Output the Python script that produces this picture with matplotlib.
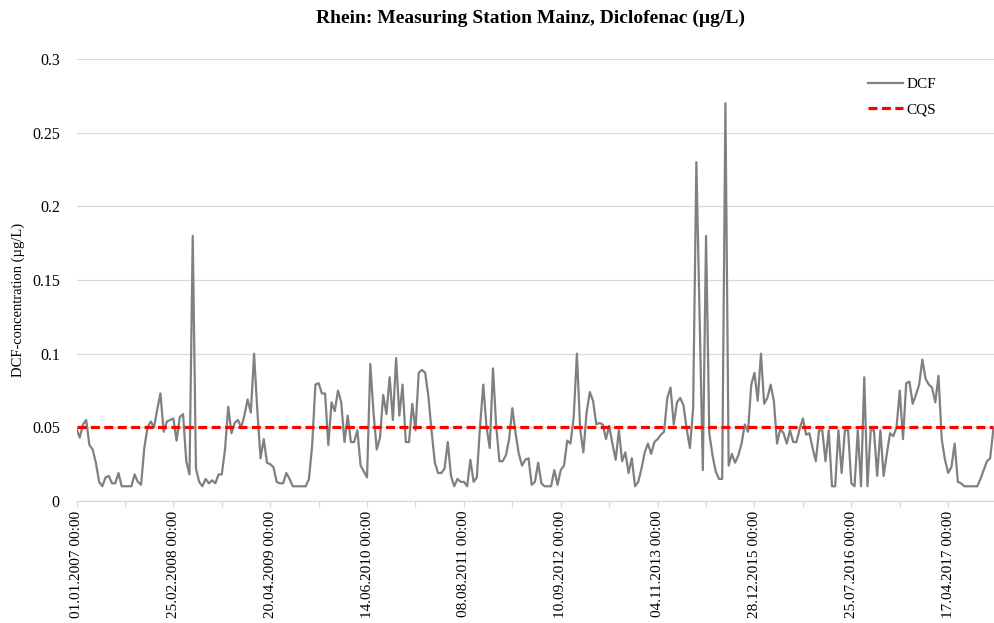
import matplotlib

matplotlib.use("Agg")
import matplotlib.pyplot as plt
from matplotlib.ticker import FixedLocator, FuncFormatter

LINE = "#808080"
CQS_COLOR = "#ff0000"
GRID = "#d9d9d9"
TEXT = "#000000"
FONT = "Liberation Serif"

# DCF concentration (µg/L), one value per sample (category axis)
dcf = [
    0.049, 0.043, 0.052, 0.055, 0.038, 0.035, 0.026, 0.013, 0.010, 0.016,
    0.017, 0.012, 0.012, 0.019, 0.010, 0.010, 0.010, 0.010, 0.018, 0.013,
    0.011, 0.036, 0.050, 0.054, 0.050, 0.062, 0.073, 0.047, 0.054, 0.055,
    0.056, 0.041, 0.057, 0.059, 0.027, 0.018, 0.180, 0.022, 0.013, 0.010,
    0.015, 0.012, 0.014, 0.012, 0.018, 0.018, 0.035, 0.064, 0.046, 0.053,
    0.055, 0.050, 0.058, 0.069, 0.060, 0.100, 0.062, 0.029, 0.042, 0.026,
    0.025, 0.023, 0.013, 0.012, 0.012, 0.019, 0.015, 0.010, 0.010, 0.010,
    0.010, 0.010, 0.015, 0.038, 0.079, 0.080, 0.073, 0.073, 0.038, 0.067,
    0.061, 0.075, 0.067, 0.040, 0.058, 0.040, 0.040, 0.048, 0.024, 0.020,
    0.016, 0.093, 0.060, 0.035, 0.043, 0.072, 0.059, 0.084, 0.055, 0.097,
    0.058, 0.079, 0.040, 0.040, 0.066, 0.048, 0.087, 0.089, 0.087, 0.071,
    0.047, 0.026, 0.019, 0.019, 0.022, 0.040, 0.017, 0.010, 0.015, 0.013,
    0.013, 0.010, 0.028, 0.013, 0.016, 0.051, 0.079, 0.050, 0.036, 0.090,
    0.051, 0.027, 0.027, 0.031, 0.042, 0.063, 0.046, 0.032, 0.024, 0.028,
    0.029, 0.011, 0.013, 0.026, 0.012, 0.010, 0.010, 0.010, 0.021, 0.011,
    0.021, 0.024, 0.041, 0.039, 0.057, 0.100, 0.049, 0.033, 0.060, 0.074,
    0.068, 0.052, 0.053, 0.052, 0.042, 0.051, 0.039, 0.028, 0.048, 0.027,
    0.033, 0.019, 0.029, 0.010, 0.013, 0.022, 0.033, 0.039, 0.032, 0.040,
    0.042, 0.045, 0.047, 0.070, 0.077, 0.052, 0.067, 0.070, 0.065, 0.049,
    0.036, 0.063, 0.230, 0.125, 0.021, 0.180, 0.046, 0.031, 0.020, 0.015,
    0.015, 0.270, 0.024, 0.032, 0.026, 0.031, 0.039, 0.052, 0.047, 0.079,
    0.087, 0.068, 0.100, 0.066, 0.070, 0.079, 0.068, 0.039, 0.049, 0.046,
    0.039, 0.048, 0.040, 0.040, 0.049, 0.056, 0.045, 0.046, 0.036, 0.027,
    0.048, 0.048, 0.027, 0.048, 0.010, 0.010, 0.048, 0.019, 0.048, 0.048,
    0.012, 0.010, 0.048, 0.010, 0.084, 0.010, 0.048, 0.048, 0.017, 0.048,
    0.017, 0.032, 0.046, 0.044, 0.050, 0.075, 0.042, 0.080, 0.081, 0.066,
    0.072, 0.079, 0.096, 0.083, 0.079, 0.077, 0.067, 0.085, 0.042, 0.028,
    0.019, 0.023, 0.039, 0.013, 0.012, 0.010, 0.010, 0.010, 0.010, 0.010,
    0.015, 0.021, 0.027, 0.029, 0.049,
]
cqs = 0.05

tick_labels = [
    "01.01.2007 00:00", "25.02.2008 00:00", "20.04.2009 00:00",
    "14.06.2010 00:00", "08.08.2011 00:00", "10.09.2012 00:00",
    "04.11.2013 00:00", "28.12.2015 00:00", "25.07.2016 00:00",
    "17.04.2017 00:00",
]
label_step = 30
y_ticks = [0, 0.05, 0.1, 0.15, 0.2, 0.25, 0.3]

idx = list(range(len(dcf)))

fig = plt.figure(figsize=(9.95, 6.23), dpi=100)
ax = fig.add_axes([76.5 / 995, 1 - 501 / 623, 1 - 76.5 / 995, (501 - 59) / 623])

ax.plot(idx, dcf, color=LINE, linewidth=1.6, label="DCF", zorder=3)
ax.plot(idx, [cqs] * len(idx), color=CQS_COLOR, linewidth=2.3,
        linestyle=(0, (2.8, 1.4)), label="CQS", zorder=4)

ax.set_xlim(0, len(dcf) - 0.5)
ax.set_ylim(0, 0.3)

ax.set_yticks(y_ticks)
ax.yaxis.set_major_formatter(FuncFormatter(lambda v, p: f"{v:g}"))
ax.grid(axis="y", color=GRID, linewidth=0.9)
ax.set_axisbelow(True)

major = [i * label_step for i in range(len(tick_labels))]
ax.xaxis.set_major_locator(FixedLocator(major))
ax.xaxis.set_minor_locator(FixedLocator([m + label_step / 2 for m in major]))
ax.set_xticklabels(tick_labels, rotation=90, ha="center", va="top",
                   fontsize=11, family=FONT, color=TEXT)

for side in ("top", "right", "left"):
    ax.spines[side].set_visible(False)
ax.spines["bottom"].set_color(GRID)
ax.spines["bottom"].set_linewidth(0.9)

ax.tick_params(axis="x", which="both", length=4, color=GRID, width=0.9, pad=3)
ax.tick_params(axis="y", length=0, pad=12, labelsize=11.5)
for lab in ax.get_yticklabels():
    lab.set_family(FONT)

fig.text(531 / 995, 1 - 18 / 623, "Rhein: Measuring Station Mainz, Diclofenac (µg/L)",
         ha="center", va="center", fontsize=14, fontweight="bold", family=FONT)
fig.text(18 / 995, 1 - 300 / 623, "DCF-concentration (µg/L)", rotation=90,
         ha="center", va="center", fontsize=10.5, family=FONT)

ax.legend(loc="upper left", bbox_to_anchor=(860 / 995, 1 - 70 / 623),
          bbox_transform=fig.transFigure, frameon=False, borderpad=0,
          handlelength=2.3, handletextpad=0.25, labelspacing=0.75,
          prop={"family": FONT, "size": 11})

fig.savefig("out.png", dpi=100, facecolor="white")
